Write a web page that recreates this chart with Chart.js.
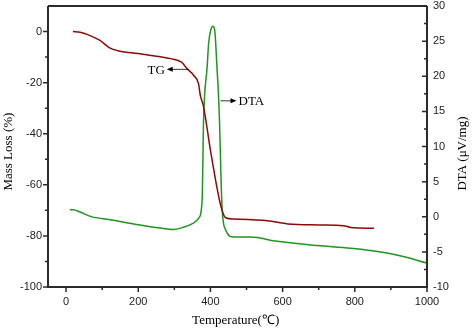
<!DOCTYPE html>
<html>
<head>
<meta charset="utf-8">
<script src="https://cdn.jsdelivr.net/npm/chart.js@4"></script>
<style>
  body { margin: 0; background: #fff; }
</style>
</head>
<body>
<canvas id="tg-chart" width="472" height="331"></canvas>
<script>
// TG curve (mass loss, left axis)
const tgTemp = [19, 39, 60, 94, 122, 150, 200, 261, 289, 320, 335, 354, 367, 372, 380, 386, 400, 428, 442, 464, 558, 614, 700, 769, 789, 853];
const tgMass = [0, -0.3, -1.2, -3.5, -6.5, -7.7, -8.6, -9.9, -10.6, -12, -14.5, -17.2, -20.4, -25, -28.8, -33.5, -46.4, -67.8, -72.9, -73.4, -74.1, -75.3, -75.7, -76, -76.7, -77];

// DTA curve (right axis)
const dtaTemp = [11, 20, 39, 67, 122, 200, 261, 300, 325, 353, 369, 377, 381, 391, 395, 402, 407, 412, 418, 423, 425, 432, 442, 465, 511, 585, 696, 789, 881, 928, 1000];
const dtaValue = [1.0, 1.0, 0.67, 0.05, -0.43, -1.14, -1.6, -1.8, -1.5, -0.9, -0.1, 2.4, 13.8, 21.4, 24.7, 26.8, 27.1, 26.5, 21.4, 16.6, 13.8, 1.5, -1.85, -2.9, -2.9, -3.5, -4.1, -4.5, -5.1, -5.6, -6.6];

// axis ticks
const xTicks = [0, 200, 400, 600, 800, 1000];
const xMinor = [100, 300, 500, 700, 900];
const massTicks = [-100, -80, -60, -40, -20, 0];
const massMinor = [-90, -70, -50, -30, -10];
const dtaTicks = [-10, -5, 0, 5, 10, 15, 20, 25, 30];
const dtaMinor = [-7.5, -2.5, 2.5, 7.5, 12.5, 17.5, 22.5, 27.5];

const tickFont = { family: "'Liberation Sans', Arial, sans-serif", size: 11 };
const serif = '13px "Liberation Serif", "Times New Roman", serif';

// draw the frame, tick marks, titles and labels ourselves
const framePlugin = {
    id: 'frame',
    afterDraw(chart) {
        const ctx = chart.ctx;
        const a = chart.chartArea;
        const x = chart.scales.x, y = chart.scales.y, y2 = chart.scales.y2;
        ctx.save();
        ctx.strokeStyle = '#2b2b2b';
        ctx.lineWidth = 2;
        ctx.beginPath();
        ctx.moveTo(a.left, a.top); ctx.lineTo(a.right, a.top);
        ctx.moveTo(a.left, a.top); ctx.lineTo(a.left, a.bottom + 1);
        ctx.moveTo(a.right, a.top); ctx.lineTo(a.right, a.bottom + 1);
        ctx.moveTo(a.left - 1, a.bottom); ctx.lineTo(a.right + 1, a.bottom);
        ctx.stroke();

        ctx.lineWidth = 1.5;
        ctx.beginPath();
        xTicks.forEach(v => { const p = x.getPixelForValue(v); ctx.moveTo(p, a.bottom); ctx.lineTo(p, a.bottom + 5); });
        xMinor.forEach(v => { const p = x.getPixelForValue(v); ctx.moveTo(p, a.bottom); ctx.lineTo(p, a.bottom + 3); });
        massTicks.forEach(v => { const p = y.getPixelForValue(v); ctx.moveTo(a.left, p); ctx.lineTo(a.left - 5, p); });
        massMinor.forEach(v => { const p = y.getPixelForValue(v); ctx.moveTo(a.left, p); ctx.lineTo(a.left - 3, p); });
        dtaTicks.forEach(v => { const p = y2.getPixelForValue(v); ctx.moveTo(a.right, p); ctx.lineTo(a.right - 5, p); });
        dtaMinor.forEach(v => { const p = y2.getPixelForValue(v); ctx.moveTo(a.right, p); ctx.lineTo(a.right - 3, p); });
        ctx.stroke();

        // axis titles
        ctx.fillStyle = '#000';
        ctx.font = serif;
        ctx.textAlign = 'center';
        ctx.textBaseline = 'middle';
        ctx.fillText('Temperature(℃)', x.getPixelForValue(470), 321);
        ctx.save();
        ctx.translate(9, y.getPixelForValue(-47));
        ctx.rotate(-Math.PI / 2);
        ctx.fillText('Mass Loss (%)', 0, 0);
        ctx.restore();
        ctx.save();
        ctx.translate(463, y2.getPixelForValue(9));
        ctx.rotate(-Math.PI / 2);
        ctx.fillText('DTA (\u03bcV/mg)', 0, 0);
        ctx.restore();

        // curve labels with arrows
        const tgX = x.getPixelForValue(340), tgY = y.getPixelForValue(-14.8);
        const dtaX = x.getPixelForValue(428), dtaY = y2.getPixelForValue(16.5);
        ctx.strokeStyle = '#000';
        ctx.lineWidth = 0.8;
        ctx.beginPath();
        ctx.moveTo(tgX, tgY); ctx.lineTo(tgX - 18, tgY);
        ctx.moveTo(dtaX, dtaY); ctx.lineTo(dtaX + 12, dtaY);
        ctx.stroke();
        ctx.beginPath();
        ctx.moveTo(tgX - 22, tgY); ctx.lineTo(tgX - 16, tgY - 2.5); ctx.lineTo(tgX - 16, tgY + 2.5); ctx.closePath();
        ctx.moveTo(dtaX + 16, dtaY); ctx.lineTo(dtaX + 10, dtaY - 2.5); ctx.lineTo(dtaX + 10, dtaY + 2.5); ctx.closePath();
        ctx.fill();
        ctx.textAlign = 'right';
        ctx.fillText('TG', tgX - 24, tgY + 1);
        ctx.textAlign = 'left';
        ctx.fillText('DTA', dtaX + 18, dtaY + 1);
        ctx.restore();
    }
};

const noPad = s => { s.paddingTop = 0; s.paddingBottom = 0; };

const ctx = document.getElementById('tg-chart').getContext('2d');
new Chart(ctx, {
    type: 'line',
    data: {
        datasets: [{
            label: 'TG',
            data: tgTemp.map((t, i) => ({ x: t, y: tgMass[i] })),
            borderColor: '#8b0a0a',
            borderWidth: 1.5,
            pointRadius: 0,
            cubicInterpolationMode: 'monotone',
            yAxisID: 'y'
        }, {
            label: 'DTA',
            data: dtaTemp.map((t, i) => ({ x: t, y: dtaValue[i] })),
            borderColor: '#1f961f',
            borderWidth: 1.5,
            pointRadius: 0,
            cubicInterpolationMode: 'monotone',
            yAxisID: 'y2'
        }]
    },
    options: {
        responsive: false,
        animation: false,
        devicePixelRatio: 1,
        layout: { padding: { top: 6 } },
        plugins: { legend: { display: false }, tooltip: { enabled: false } },
        scales: {
            x: {
                type: 'linear',
                min: -50, max: 1000,
                afterBuildTicks: s => { s.ticks = xTicks.map(v => ({ value: v })); },
                afterFit: s => { s.height = 44; s.paddingLeft = 0; s.paddingRight = 0; },
                grid: { display: false, drawTicks: true, tickLength: 5 },
                border: { display: false },
                ticks: { font: tickFont, color: '#222', padding: 3, maxRotation: 0, callback: v => String(v) }
            },
            y: {
                position: 'left',
                min: -100, max: 10,
                afterBuildTicks: s => { s.ticks = massTicks.map(v => ({ value: v })); },
                afterFit: s => { s.width = 48; noPad(s); },
                grid: { display: false, drawTicks: true, tickLength: 5 },
                border: { display: false },
                ticks: { font: tickFont, color: '#222', padding: 1, callback: v => String(v) }
            },
            y2: {
                position: 'right',
                min: -10, max: 30,
                afterBuildTicks: s => { s.ticks = dtaTicks.map(v => ({ value: v })); },
                afterFit: s => { s.width = 45; noPad(s); },
                grid: { display: false, drawTicks: true, tickLength: 3 },
                border: { display: false },
                ticks: { font: tickFont, color: '#222', padding: 3, callback: v => String(v) }
            }
        }
    },
    plugins: [framePlugin]
});
</script>
</body>
</html>
